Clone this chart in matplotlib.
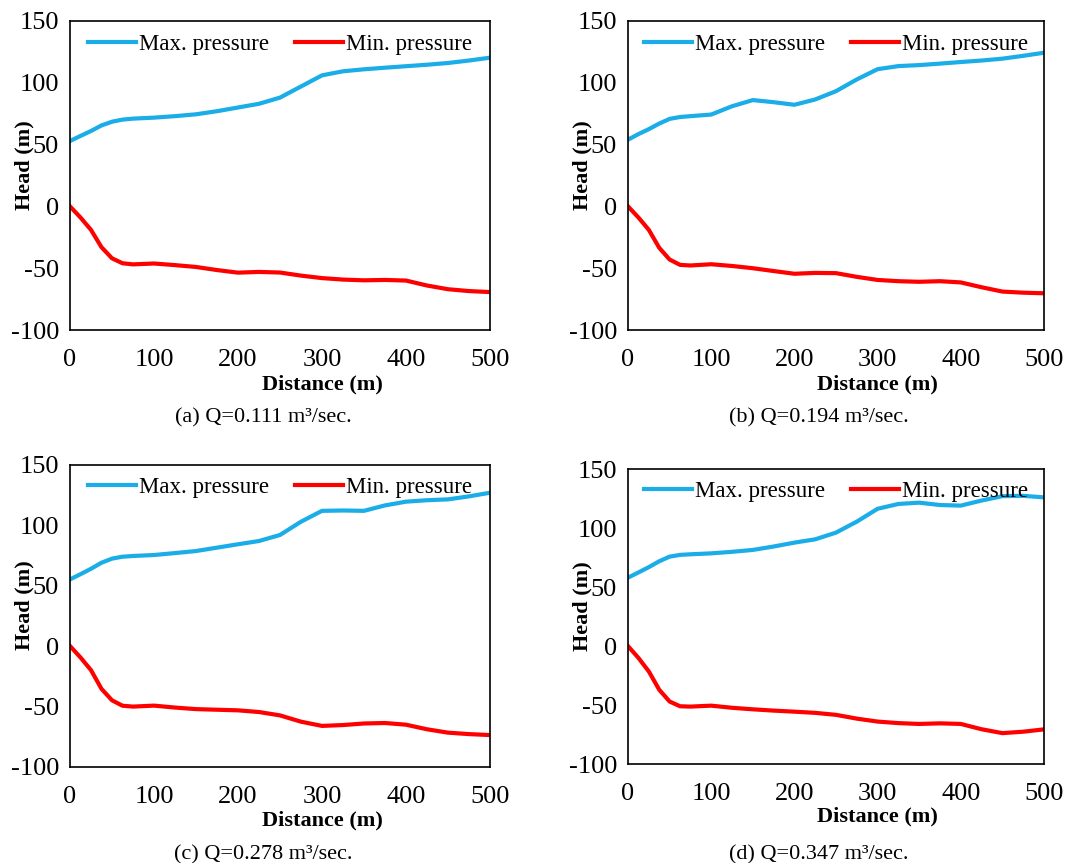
import matplotlib
matplotlib.use('Agg')
import matplotlib.pyplot as plt

plt.rcParams['font.family'] = ['Liberation Serif', 'DejaVu Serif']
plt.rcParams['font.size'] = 16
plt.rcParams['axes.unicode_minus'] = False

# distance along the pipe (m)
distance = [0, 12.5, 25, 37.5, 50, 62.5, 75, 100, 125, 150, 175, 200, 225, 250,
            275, 300, 325, 350, 375, 400, 425, 450, 475, 500]

# (a) Q=0.111
max_a = [52.9, 57, 61, 65.5, 68.5, 70.2, 71, 71.8, 73, 74.5, 77, 80, 83, 88,
         97, 106, 109.3, 110.9, 112.2, 113.4, 114.6, 116, 118, 120.3]
min_a = [0, -9, -19, -33, -42, -46, -46.9, -46.2, -47.5, -49, -51.5, -53.6, -53, -53.5,
         -56, -58, -59.2, -59.8, -59.5, -60, -64, -67, -68.5, -69.3]

# (b) Q=0.194
max_b = [54, 58.5, 62.5, 67, 70.8, 72.3, 73, 74.3, 81, 86, 84.3, 82.2, 86.5, 93.2,
         102.7, 111, 113.5, 114.3, 115.5, 116.8, 118, 119.5, 121.8, 124.3]
min_b = [0, -9, -19, -33.5, -43, -47.3, -47.8, -46.8, -48.2, -50, -52.3, -54.5, -53.8, -54,
         -57, -59.5, -60.5, -61, -60.5, -61.5, -65.4, -68.9, -69.8, -70.3]

# (c) Q=0.278
max_c = [55.2, 59.5, 64, 69, 72.4, 74, 74.6, 75.4, 77, 78.7, 81.5, 84.3, 87, 92,
         103, 112, 112.3, 112, 116.5, 119.6, 120.8, 121.5, 124, 127]
min_c = [0, -9.5, -20, -35.5, -45, -49.5, -50.2, -49.4, -51, -52.3, -52.8, -53.3, -54.7, -57.5,
         -62.7, -66.2, -65.5, -64.2, -63.8, -65.2, -69, -71.8, -73, -73.8]

# (d) Q=0.347
max_d = [58.1, 62.5, 67, 72, 75.9, 77.4, 77.9, 78.7, 80, 81.6, 84.5, 87.8, 90.6, 96.3,
         105.6, 116.5, 120.6, 121.7, 119.7, 119.2, 123.5, 127.2, 127.5, 126.2]
min_d = [0, -10, -21.5, -37, -47, -51, -51.3, -50.5, -52.3, -53.6, -54.7, -55.6, -56.6, -58.3,
         -61.5, -64, -65.3, -66, -65.5, -66, -70.5, -73.8, -72.6, -70.6]

captions = ['(a) Q=0.111 m³/sec.', '(b) Q=0.194 m³/sec.',
            '(c) Q=0.278 m³/sec.', '(d) Q=0.347 m³/sec.']
xticks = [0, 100, 200, 300, 400, 500]
yticks = [-100, -50, 0, 50, 100, 150]

panels = [
    (max_a, min_a, [0.0656, 0.6176, 0.3936, 0.3581]),
    (max_b, min_b, [0.5886, 0.6176, 0.3898, 0.3581]),
    (max_c, min_c, [0.0656, 0.1116, 0.3936, 0.3496]),
    (max_d, min_d, [0.5886, 0.1147, 0.3898, 0.3415]),
]
caption_pos = [(263, 418), (819, 418), (263, 855), (819, 855)]

fig = plt.figure(figsize=(10.67, 8.63), dpi=100)

for i, (hmax, hmin, rect) in enumerate(panels):
    ax = fig.add_axes(rect)
    ax.plot(distance, hmax, color='#1AADE8', lw=3, solid_joinstyle='round',
            label='Max. pressure')
    ax.plot(distance, hmin, color='#FF0000', lw=3, solid_joinstyle='round',
            label='Min. pressure')
    ax.set_xlim(0, 500)
    ax.set_ylim(-100, 150)
    ax.set_xticks(xticks)
    ax.set_yticks(yticks)
    ax.tick_params(axis='y', length=0, pad=8, labelsize=19)
    ax.tick_params(axis='x', length=0, pad=14, labelsize=19)
    for s in ax.spines.values():
        s.set_linewidth(1.2)
    ax.set_xlabel('Distance (m)', fontweight='bold', fontsize=16)
    ax.set_ylabel('Head (m)', fontweight='bold', fontsize=16)
    ax.xaxis.set_label_coords(0.6, -0.145)
    ax.yaxis.set_label_coords(-0.085, 0.535)
    ax.legend(loc='center', bbox_to_anchor=(0.5, 0.925), ncol=2, frameon=False,
              handlelength=2.1, handletextpad=0.15, columnspacing=1.1,
              borderaxespad=0, fontsize=16.5)
    cx, cy = caption_pos[i]
    fig.text(cx / 1067, 1 - cy / 863, captions[i], ha='center', va='center',
             fontsize=16)

fig.savefig('out.png', dpi=100)
